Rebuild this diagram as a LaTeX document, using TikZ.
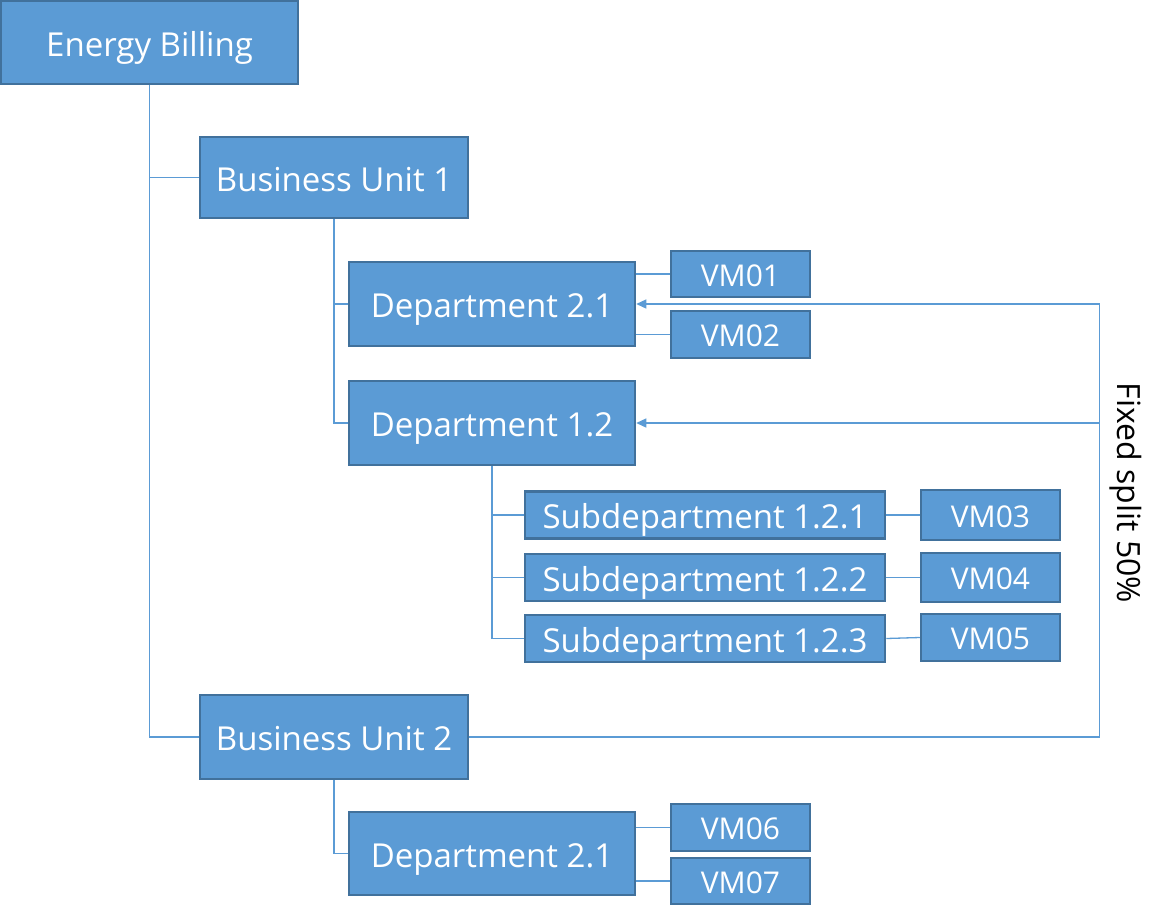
\documentclass[tikz,border=0pt]{standalone}
\usepackage{fontspec}
\setmainfont{Open Sans}
\usetikzlibrary{arrows.meta}
\definecolor{boxfill}{HTML}{5B9BD5}
\definecolor{boxline}{HTML}{41719C}
\definecolor{conn}{HTML}{5B9BD5}
\begin{document}
\begin{tikzpicture}[x=1pt,y=-1pt,
  box/.style={draw=boxline, fill=boxfill, line width=2.5pt, text=white, inner sep=0pt,
    text height=30pt, text depth=3pt, font=\fontsize{33}{33}\selectfont},
  small/.style={box, text height=27pt, text depth=2.7pt, font=\fontsize{30}{30}\selectfont},
  link/.style={draw=conn, line width=1.3pt},
  arr/.style={link, -{Triangle[length=10pt,width=9pt]}}]
\useasboundingbox (0,0) rectangle (1161,921);
\node[box, minimum width=297pt, minimum height=83pt] (eb) at (149.5,42.5) {Energy Billing};
\node[box, minimum width=268pt, minimum height=81pt] (bu1) at (334,177.5) {Business Unit 1};
\node[box, minimum width=286pt, minimum height=84pt] (d21) at (492,304) {Department 2.1};
\node[small, minimum width=139pt, minimum height=46pt] (vm01) at (740.5,274) {VM01};
\node[small, minimum width=139pt, minimum height=47pt] (vm02) at (740.5,334.5) {VM02};
\node[box, minimum width=286pt, minimum height=84pt] (d12) at (492,423) {Department 1.2};
\node[box, minimum width=360pt, minimum height=47pt] (s1) at (705,515) {Subdepartment 1.2.1};
\node[small, minimum width=139pt, minimum height=50pt] (vm03) at (990.5,515) {VM03};
\node[box, minimum width=360pt, minimum height=47pt] (s2) at (705,577.5) {Subdepartment 1.2.2};
\node[small, minimum width=139pt, minimum height=49pt] (vm04) at (990.5,577.5) {VM04};
\node[box, minimum width=360pt, minimum height=47pt] (s3) at (705,638.5) {Subdepartment 1.2.3};
\node[small, minimum width=139pt, minimum height=47pt] (vm05) at (990.5,637.5) {VM05};
\node[box, minimum width=268pt, minimum height=84pt] (bu2) at (334,737) {Business Unit 2};
\node[box, minimum width=286pt, minimum height=83pt] (d21b) at (492,853.5) {Department 2.1};
\node[small, minimum width=139pt, minimum height=47pt] (vm06) at (740.5,827.5) {VM06};
\node[small, minimum width=139pt, minimum height=46pt] (vm07) at (740.5,881) {VM07};
% tree connectors
\path[link] (eb.south) |- (bu1.west);
\path[link] (eb.south) |- (bu2.west);
\path[link] (bu1.south) |- (d21.west);
\path[link] (bu1.south) |- (d12.west);
\path[link] (d12.south) |- (s1.west);
\path[link] (d12.south) |- (s2.west);
\path[link] (d12.south) |- (s3.west);
\path[link] (bu2.south) |- (d21b.west);
\path[link] (d21.east |- vm01.west) -- (vm01.west);
\path[link] (d21.east |- vm02.west) -- (vm02.west);
\path[link] (s1.east) -- (vm03.west);
\path[link] (s2.east) -- (vm04.west);
\path[link] (s3.east) -- (vm05.west);
\path[link] (d21b.east |- vm06.west) -- (vm06.west);
\path[link] (d21b.east |- vm07.west) -- (vm07.west);
% fixed split
\coordinate (sp) at (1099.5,737);
\path[arr] (bu2.east) -- (sp) -- (sp |- d21.east) -- (d21.east);
\path[arr] (sp |- d12.east) -- (d12.east);
\node[rotate=-90, font=\fontsize{32}{32}\selectfont, text=black] (lbl) at (1126,493) {Fixed split 50\%};
\end{tikzpicture}
\end{document}
